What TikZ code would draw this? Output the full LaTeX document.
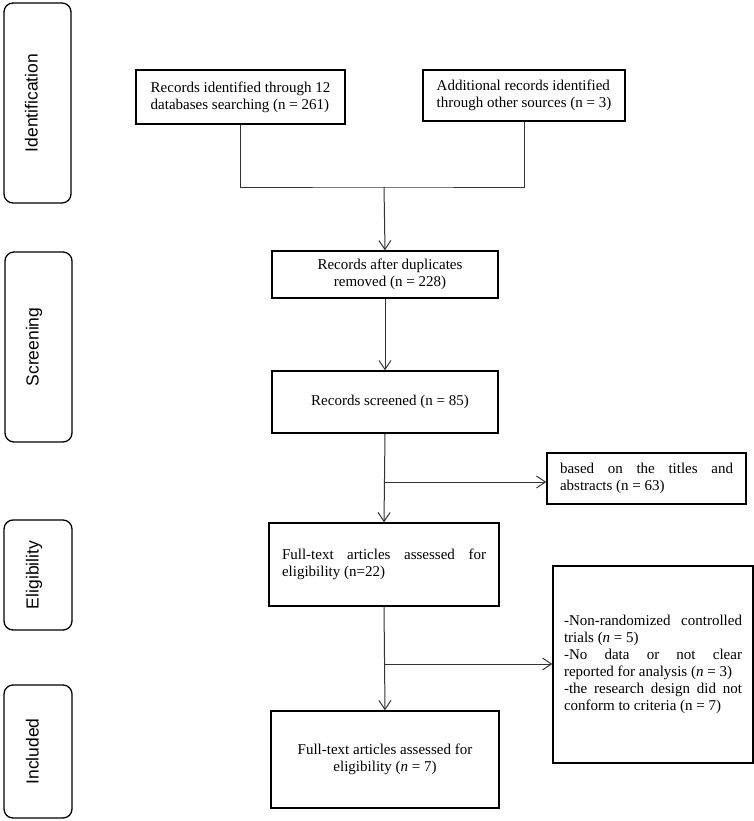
\documentclass[tikz,border=0pt]{standalone}
\usepackage{fontspec}
\setmainfont{Liberation Serif}
\setsansfont{Liberation Sans}
\usetikzlibrary{arrows.meta}
\begin{document}
\begin{tikzpicture}[x=1pt,y=-1pt,
  mainbox/.style={draw=black, line width=1.3pt, inner sep=0pt, align=center,
    font=\fontsize{15}{17}\selectfont},
  jbox/.style={mainbox, align=justify},
  phase/.style={draw=black, line width=1.3pt, rounded corners=9pt, inner sep=0pt},
  phaselabel/.style={rotate=90, anchor=base, inner sep=0pt,
    font=\sffamily\fontsize{17.5}{20}\selectfont},
  conn/.style={draw=black!80, line width=1pt},
  arr/.style={conn, -{Straight Barb[length=9pt,width=12pt,line width=1pt]}}]
\useasboundingbox (0,0) rectangle (754,821);

% phase boxes
\node[phase, minimum width=67pt, minimum height=200pt] (pid) at (37.5,103) {};
\node[phase, minimum width=67pt, minimum height=190pt] (psc) at (38.5,347) {};
\node[phase, minimum width=68pt, minimum height=110pt] (pel) at (38,575) {};
\node[phase, minimum width=68pt, minimum height=133pt] (pin) at (38,751.5) {};
\node[phaselabel] (lid) at (37.5,103) {Identification};
\node[phaselabel] (lsc) at (38.5,347) {Screening};
\node[phaselabel] (lel) at (38.5,575) {Eligibility};
\node[phaselabel] (lin) at (38.5,751.5) {Included};

% main boxes
\node[mainbox, align=left, minimum width=209pt, minimum height=54pt] (b1) at (240.5,97)
  {Records identified through 12\\databases searching (n = 261)};
\node[mainbox, align=left, minimum width=202pt, minimum height=51pt] (b2) at (524,95.5)
  {Additional records identified\\through other sources (n = 3)};
\node[mainbox, minimum width=226pt, minimum height=47pt] (b3) at (385,274.5)
  {\hspace*{10pt}Records after duplicates\\\hspace*{10pt}removed (n = 228)};
\node[mainbox, minimum width=226pt, minimum height=62pt] (b4) at (385,402)
  {\hspace*{10pt}Records screened (n = 85)};
\node[jbox, text width=173pt, minimum width=199pt, minimum height=51pt] (r1) at (646.5,478.5)
  {based on the titles and\linebreak abstracts (n~=~63)};
\node[jbox, text width=204pt, minimum width=230pt, minimum height=83pt] (b5) at (384,564.5)
  {Full-text articles assessed for\linebreak eligibility (n=22)};
\node[jbox, text width=178pt, minimum width=200pt, minimum height=197pt] (r2) at (653,664.5)
  {-Non-randomized controlled\linebreak trials (\textit{n}~=~5)\\
   -No data or not clear\linebreak reported for analysis (\textit{n}~=~3)\\
   -the research design did not\linebreak conform to criteria (n~=~7)};
\node[mainbox, minimum width=228pt, minimum height=97pt] (b6) at (385,759.5)
  {Full-text articles assessed for\\eligibility (\textit{n} = 7)};

% connectors
\coordinate (j) at (384,187);
\coordinate (c1) at (384,482);
\coordinate (c2) at (384,664);
\draw[conn] (b1.south) |- (j) -| (b2.south);
\draw[arr] (j) -- (b3.north);
\draw[arr] (b3.south) -- (b4.north);
\draw[arr] (b4.south) -- (b5.north);
\draw[arr] (c1) -- (c1 -| r1.west);
\draw[arr] (b5.south) -- (b6.north);
\draw[arr] (c2) -- (c2 -| r2.west);
\end{tikzpicture}
\end{document}
